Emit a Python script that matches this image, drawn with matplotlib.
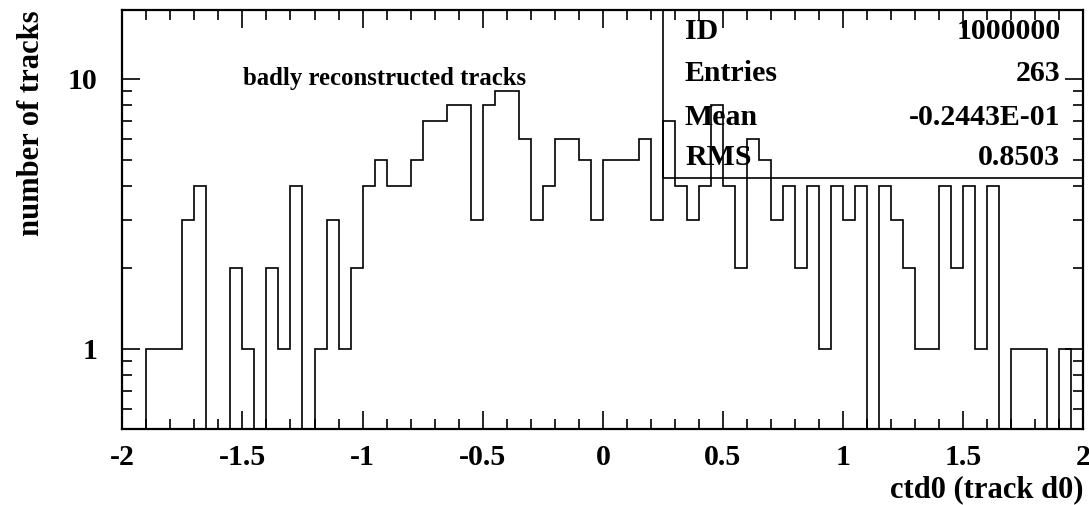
import numpy as np
import matplotlib
matplotlib.use("Agg")
import matplotlib.pyplot as plt
from matplotlib.ticker import MultipleLocator, FixedLocator, NullFormatter

# histogram binning (80 bins of 0.05 between -2 and 2)
x_min, x_max, n_bins = -2.0, 2.0, 80

# bin contents, left to right
counts = [0, 0, 1, 1, 1, 3, 4, 0, 0, 2,
          1, 0, 2, 1, 4, 0, 1, 3, 1, 2,
          4, 5, 4, 4, 5, 7, 7, 8, 8, 3,
          8, 9, 9, 6, 3, 4, 6, 6, 5, 3,
          5, 5, 5, 6, 3, 7, 4, 3, 4, 8,
          4, 2, 6, 5, 3, 4, 2, 4, 1, 4,
          3, 4, 0, 4, 3, 2, 1, 1, 4, 2,
          4, 1, 4, 0, 1, 1, 1, 0, 1, 0]

xtick_vals = [-2, -1.5, -1, -0.5, 0, 0.5, 1, 1.5, 2]
xtick_text = ["-2", "-1.5", "-1", "-0.5", "0", "0.5", "1", "1.5", "2"]
ytick_vals = [1, 10]
ytick_text = ["1", "10"]

stat_names = ["ID", "Entries", "Mean", "RMS"]
stat_values = ["1000000", "263", "-0.2443E-01", "0.8503"]

plt.rcParams["font.family"] = ["Liberation Serif", "DejaVu Serif"]
plt.rcParams["font.weight"] = "bold"

fig = plt.figure(figsize=(10.89, 5.05), dpi=100)
ax = fig.add_axes([0.1123, 0.1505, 0.8825, 0.8297])

edges = np.linspace(x_min, x_max, n_bins + 1)
ax.set_yscale("log", nonpositive="clip")
ax.stairs(counts, edges, baseline=1e-3, color="black", lw=1.2)

ax.set_xlim(x_min, x_max)
ax.set_ylim(0.505, 18.0)

# ticks, PAW style: inside, on all four sides
ax.xaxis.set_major_locator(FixedLocator(xtick_vals))
ax.set_xticklabels(xtick_text)
ax.xaxis.set_minor_locator(MultipleLocator(0.1))
ax.yaxis.set_major_locator(FixedLocator(ytick_vals))
ax.set_yticklabels(ytick_text)
ax.yaxis.set_minor_locator(FixedLocator([0.6, 0.7, 0.8, 0.9, 2, 3, 4, 5, 6, 7, 8, 9]))
ax.yaxis.set_minor_formatter(NullFormatter())
ax.tick_params(which="both", direction="in", top=True, right=True,
               width=1.2, labelsize=21.5)
ax.tick_params(which="major", length=13)
ax.tick_params(which="minor", length=7)
ax.tick_params(axis="x", which="major", pad=11)
ax.tick_params(axis="y", which="major", pad=18)
for s in ax.spines.values():
    s.set_linewidth(1.6)

fig.text(32 / 1089, 1 - 10 / 505, "number of tracks", rotation=90,
         ha="center", va="top", fontsize=22, fontweight="bold")
fig.text(1083 / 1089, 1 - 490 / 505, "ctd0 (track d0)", ha="right",
         va="center", fontsize=22, fontweight="bold")

ax.text(0.1258, 0.836, "badly reconstructed tracks", transform=ax.transAxes,
        ha="left", va="center", fontsize=17.8, fontweight="bold")

# statistics box (unfilled, histogram shows through)
bx, by = 0.5627, 0.599
ax.plot([bx, bx, 1.0], [1.0, by, by], color="black", lw=1.2,
        transform=ax.transAxes, clip_on=False)
rows_y = [0.9475, 0.8496, 0.7446, 0.6468]
for name, val, yy in zip(stat_names, stat_values, rows_y):
    ax.text(0.5855, yy, name, transform=ax.transAxes, ha="left", va="center",
            fontsize=21.5, fontweight="bold")
    ax.text(0.976, yy, val, transform=ax.transAxes, ha="right", va="center",
            fontsize=21.5, fontweight="bold")

fig.savefig("out.png", dpi=100)
